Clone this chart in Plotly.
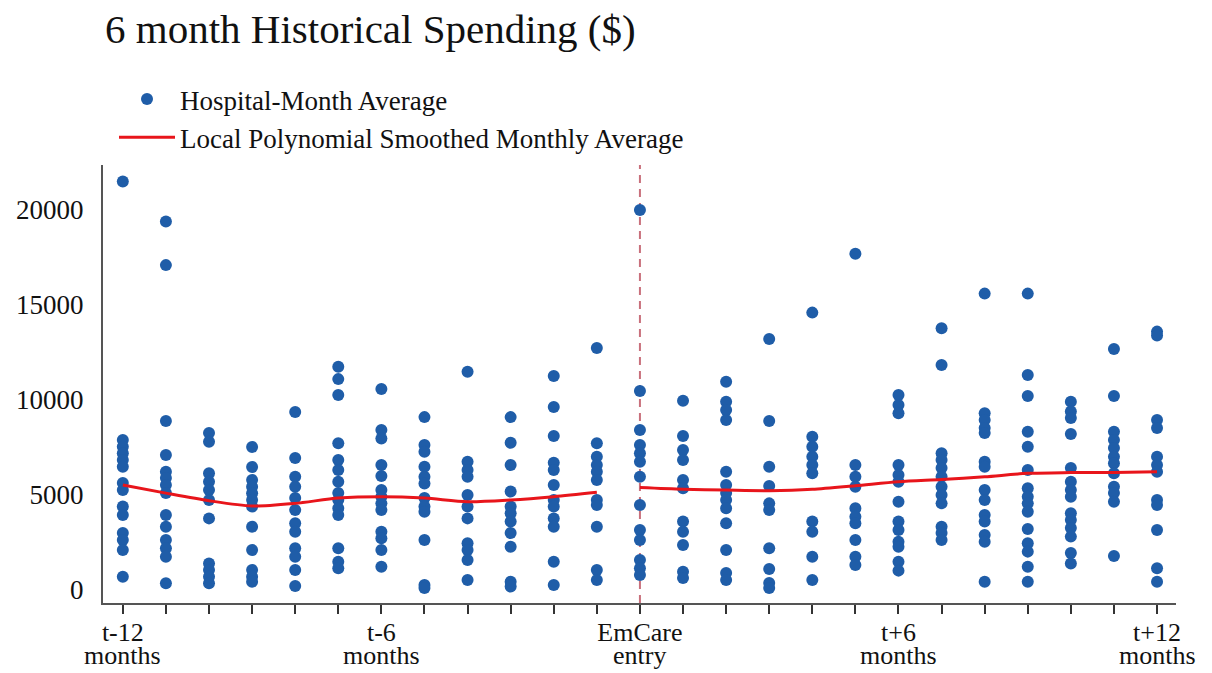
import plotly.graph_objects as go

# Months relative to EmCare entry
pre_months = list(range(-12, 0))
post_months = list(range(0, 13))

# Hospital-month average spending ($), one list per month
pre_entry_spending = [
    [21500, 7900, 7540, 7200, 6840, 6490, 5630, 5260, 4390, 3950, 3000, 2630, 2100, 700],
    [19400, 17100, 8900, 7100, 6230, 5890, 5530, 5100, 3950, 3330, 2630, 2200, 1750, 350],
    [8260, 7800, 6150, 5700, 5260, 4740, 3770, 1400, 1050, 700, 350],
    [7530, 6470, 5790, 5440, 5090, 4740, 4390, 3330, 2100, 1050, 700, 440],
    [9370, 6950, 5960, 5440, 4840, 4210, 3510, 3070, 2200, 1750, 1050, 210],
    [11750, 11100, 10260, 7720, 6840, 6320, 5700, 5100, 4740, 4300, 3950, 2200, 1490, 1140],
    [10580, 8420, 7980, 6580, 6000, 5260, 4910, 4560, 4210, 3070, 2720, 2100, 1230],
    [9100, 7630, 7280, 6490, 5960, 5610, 4840, 4390, 4120, 2630, 260, 110],
    [11490, 6750, 6320, 5960, 5000, 4390, 3770, 2460, 2100, 1580, 530],
    [9100, 7750, 6580, 5180, 4390, 4040, 3600, 3000, 2280, 440, 180],
    [11260, 9630, 8100, 6700, 6320, 5530, 4740, 4390, 3770, 3330, 1490, 260],
    [12740, 7720, 7020, 6580, 6230, 5790, 4740, 4470, 3330, 1050, 530],
]
post_entry_spending = [
    [20000, 10470, 8420, 7630, 7200, 6750, 5960, 4470, 3160, 2630, 1580, 1140, 790],
    [9960, 8100, 7370, 6840, 5790, 5350, 3600, 3070, 2370, 960, 630],
    [10960, 9910, 9470, 8950, 6230, 5530, 5100, 4740, 4300, 3510, 2100, 890, 530],
    [13210, 8900, 6490, 5470, 4560, 4210, 2200, 1100, 370, 110],
    [14600, 8070, 7540, 7020, 6580, 6150, 3600, 3070, 1750, 530],
    [17700, 6580, 5960, 5440, 4300, 3860, 3510, 2630, 1750, 1320],
    [10260, 9740, 9300, 6580, 6050, 5700, 4650, 3600, 3160, 2540, 2280, 1490, 1020],
    [13780, 11840, 7200, 6840, 6420, 5960, 5440, 5000, 4560, 3330, 3000, 2630],
    [15600, 9300, 8950, 8530, 8260, 6750, 6490, 5260, 4740, 3950, 3600, 2890, 2540, 440],
    [15600, 11320, 10210, 8330, 7540, 6320, 5350, 4910, 4560, 4120, 3210, 2460, 2020, 1230, 440],
    [9910, 9390, 9050, 8210, 6420, 5700, 5260, 4910, 4040, 3680, 3260, 2810, 1950, 1400],
    [12680, 10210, 8330, 7890, 7470, 7020, 6670, 6150, 5440, 5100, 4650, 1790],
    [13600, 13400, 8950, 8530, 7020, 6580, 6230, 4740, 4470, 3160, 1140, 440],
]

# Local polynomial smoothed monthly average, fitted separately before/after entry
pre_smoothed = [5530, 5100, 4700, 4420, 4560, 4840, 4910, 4840, 4650, 4740, 4910, 5140]
post_smoothed = [5390, 5300, 5260, 5230, 5300, 5490, 5700, 5820, 5960, 6140, 6180, 6190, 6230]

# Axis labels: first line on the tick, second line underneath
tick_months = list(range(-12, 13))
labelled_months = [-12, -6, 0, 6, 12]
label_first_line = ["t-12", "t-6", "EmCare", "t+6", "t+12"]
label_second_line = ["months", "months", "entry", "months", "months"]
y_ticks = [0, 5000, 10000, 15000, 20000]

SERIF = "Liberation Serif, Times New Roman, serif"
DOT_BLUE = "#1f5da8"
LINE_RED = "#e8151b"
TEXT = "#111111"
TICK_SIZE = 26

scatter_x, scatter_y = [], []
for month, values in zip(pre_months + post_months, pre_entry_spending + post_entry_spending):
    scatter_x.extend([month] * len(values))
    scatter_y.extend(values)

fig = go.Figure()

fig.add_trace(go.Scatter(
    x=scatter_x, y=scatter_y, mode="markers",
    name="Hospital-Month Average",
    marker=dict(color=DOT_BLUE, size=12, line=dict(width=0)),
))

fig.add_trace(go.Scatter(
    x=pre_months + [None] + post_months,
    y=pre_smoothed + [None] + post_smoothed,
    mode="lines", connectgaps=False,
    name="Local Polynomial Smoothed Monthly Average",
    line=dict(color=LINE_RED, width=3, shape="spline", smoothing=0.8),
))

# Entry marker
fig.add_shape(
    type="line", xref="x", yref="paper", x0=0, x1=0, y0=0, y1=1,
    line=dict(color="#c9707c", width=2, dash="8px,6px"), layer="below",
)

# Second line of the x tick labels
for month, text in zip(labelled_months, label_second_line):
    fig.add_annotation(
        x=month, xref="x", y=-0.156, yref="paper",
        text=text, showarrow=False, xanchor="center", yanchor="bottom",
        borderpad=0,
        font=dict(family=SERIF, size=TICK_SIZE, color=TEXT),
    )

fig.update_layout(
    width=1212, height=673,
    paper_bgcolor="white", plot_bgcolor="white",
    margin=dict(l=103, r=36, t=165, b=70, autoexpand=False),
    font=dict(family=SERIF, color=TEXT),
    title=dict(
        text="6 month Historical Spending ($)",
        x=105 / 1212, xanchor="left", xref="container",
        y=1 - 29 / 673, yanchor="middle", yref="container",
        font=dict(family=SERIF, size=41, color=TEXT),
    ),
    legend=dict(
        x=114 / 1212, xanchor="left", xref="container",
        y=1 - 75 / 673, yanchor="top", yref="container",
        font=dict(family=SERIF, size=27, color=TEXT),
        bgcolor="rgba(0,0,0,0)", tracegroupgap=0,
        itemwidth=56,
    ),
    showlegend=True,
)

fig.update_xaxes(
    range=[-12.46, 12.44],
    tickmode="array", tickvals=tick_months,
    ticktext=[label_first_line[labelled_months.index(m)] if m in labelled_months else ""
              for m in tick_months],
    ticks="outside", ticklen=9, tickwidth=1.5, tickcolor="#333333",
    showline=True, linecolor="#555555", linewidth=2,
    showgrid=False, zeroline=False,
    ticklabelstandoff=-4,
    tickfont=dict(family=SERIF, size=TICK_SIZE, color=TEXT),
)

fig.update_yaxes(
    range=[-684, 22370],
    tickmode="array", tickvals=y_ticks,
    ticktext=[str(v) for v in y_ticks],
    ticks="", showline=True, linecolor="#555555", linewidth=2,
    showgrid=False, zeroline=False,
    ticklabelstandoff=12,
    tickfont=dict(family=SERIF, size=27, color=TEXT),
)

fig.write_html("out.html")
